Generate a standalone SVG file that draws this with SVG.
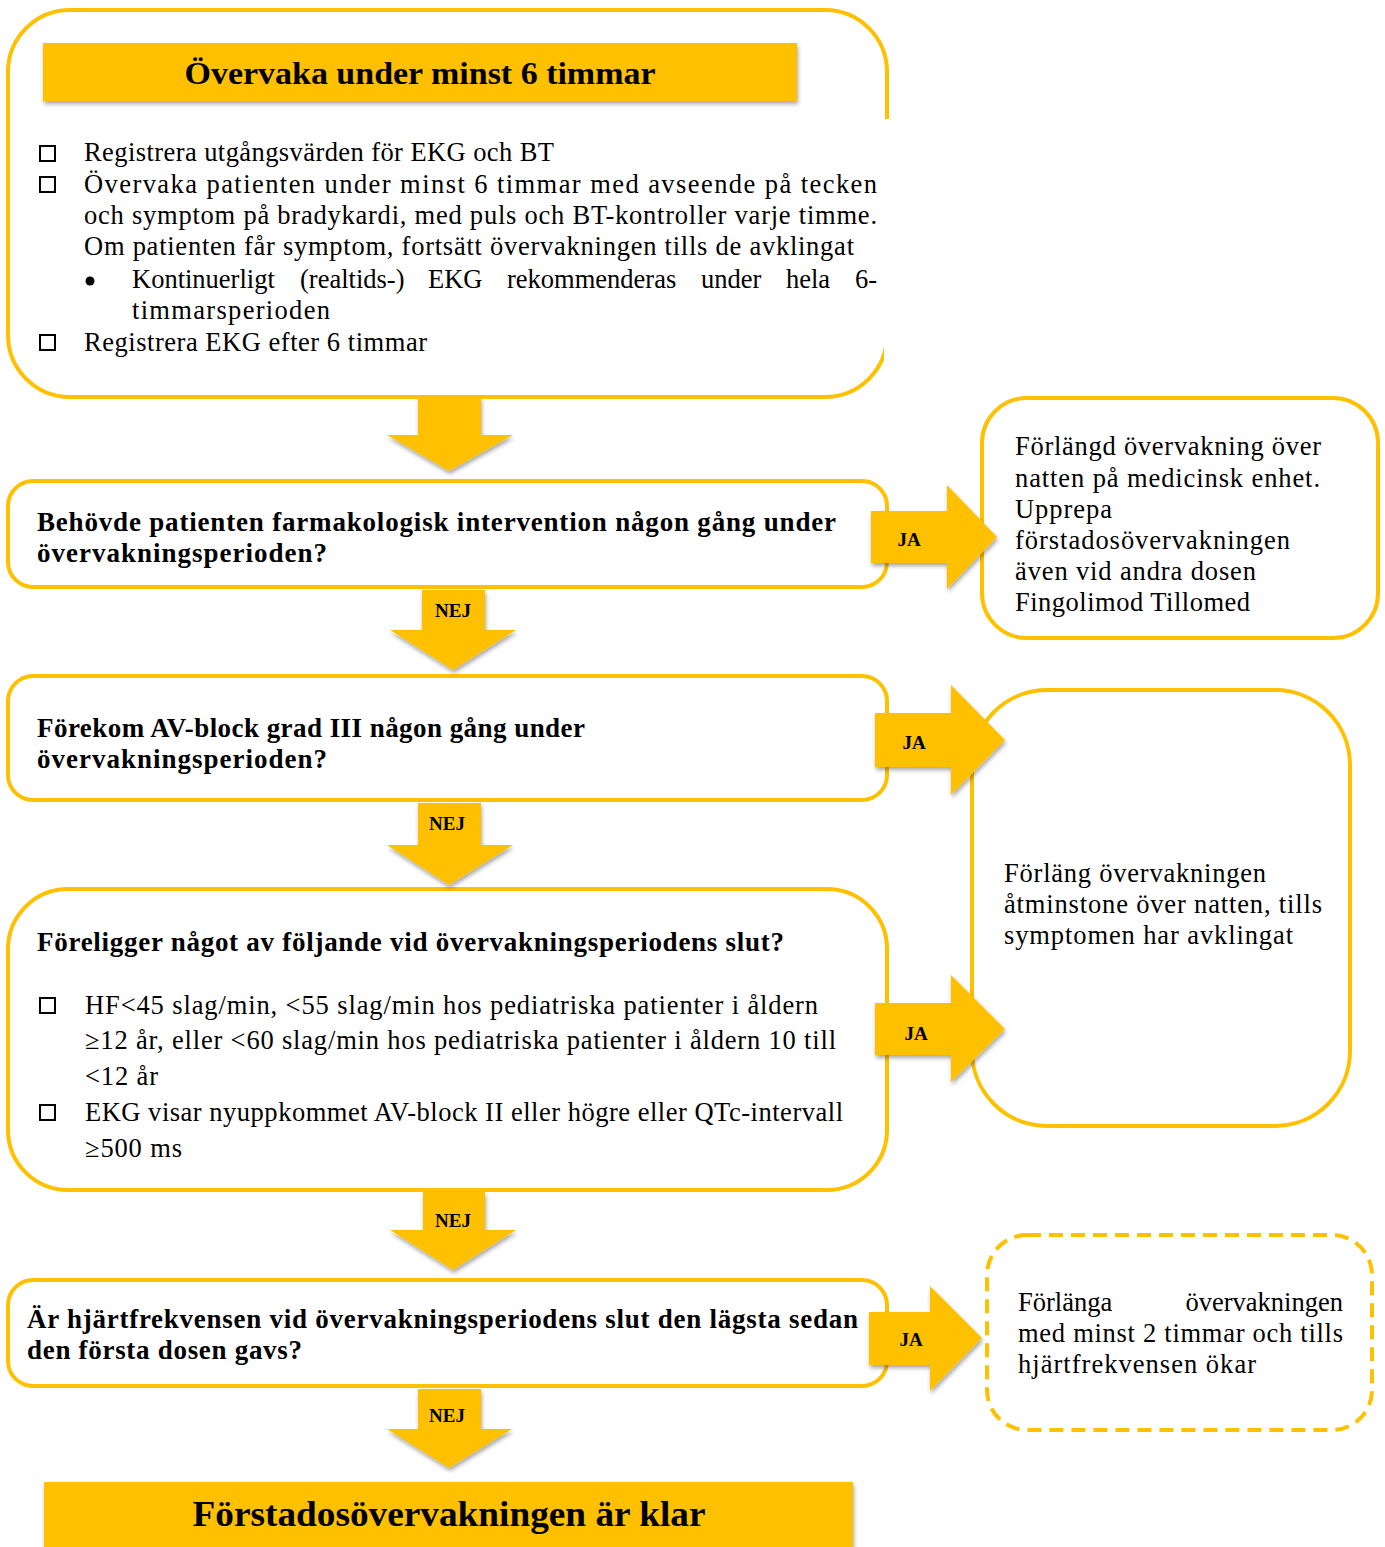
<svg xmlns="http://www.w3.org/2000/svg" width="1385" height="1547" viewBox="0 0 1385 1547">
<defs>
<filter id="sh" x="-20%" y="-20%" width="140%" height="150%">
<feDropShadow dx="1" dy="3" stdDeviation="2" flood-color="#000" flood-opacity="0.35"/>
</filter>
<style>
.box{fill:#fff;stroke:#FFC000;stroke-width:4}
.dash{fill:#fff;stroke:#FFC000;stroke-width:4;stroke-dasharray:14 8}
.bar{fill:#FFC000}
.arr{fill:#FFC000;filter:url(#sh)}
.t{font-family:"Liberation Serif","Times New Roman",serif;font-size:26.5px;fill:#000}
.b{font-family:"Liberation Serif","Times New Roman",serif;font-size:27px;font-weight:bold;fill:#000}
.lab{font-family:"Liberation Serif","Times New Roman",serif;font-size:19px;font-weight:bold;fill:#000;text-anchor:middle}
.h{font-family:"Liberation Serif","Times New Roman",serif;font-weight:bold;fill:#000;text-anchor:middle}
.cb{fill:none;stroke:#000;stroke-width:2}
</style>
</defs>
<rect width="1385" height="1547" fill="#fff"/>

<g id="node-monitor">
<rect class="box" x="8" y="10" width="879" height="387" rx="62"/>
<rect x="884" y="119" width="8" height="242" fill="#fff"/>
<rect class="bar" x="43" y="43" width="754" height="58" filter="url(#sh)"/>
<text class="h" x="420" y="84" font-size="32" textLength="471" lengthAdjust="spacingAndGlyphs">Övervaka under minst 6 timmar</text>
<rect class="cb" x="40" y="146" width="15" height="15"/>
<text class="t" x="84" y="161" textLength="470">Registrera utgångsvärden för EKG och BT</text>
<rect class="cb" x="40" y="177" width="15" height="15"/>
<text class="t" x="84" y="193" textLength="793">Övervaka patienten under minst 6 timmar med avseende på tecken</text>
<text class="t" x="84" y="224" textLength="793">och symptom på bradykardi, med puls och BT-kontroller varje timme.</text>
<text class="t" x="84" y="255" textLength="770">Om patienten får symptom, fortsätt övervakningen tills de avklingat</text>
<circle cx="90" cy="281" r="4.5" fill="#000"/>
<text class="t" y="288"><tspan x="132">Kontinuerligt</tspan><tspan x="300">(realtids-)</tspan><tspan x="428">EKG</tspan><tspan x="507">rekommenderas</tspan><tspan x="701">under</tspan><tspan x="786">hela</tspan></text>
<text class="t" x="877" y="288" text-anchor="end">6-</text>
<text class="t" x="132" y="319" textLength="198">timmarsperioden</text>
<rect class="cb" x="40" y="335" width="15" height="15"/>
<text class="t" x="84" y="351" textLength="343">Registrera EKG efter 6 timmar</text>
</g>

<g id="node-q1">
<rect class="box" x="8" y="481" width="879" height="106" rx="25"/>
<text class="b" x="37" y="531" textLength="799">Behövde patienten farmakologisk intervention någon gång under</text>
<text class="b" x="37" y="562" textLength="290">övervakningsperioden?</text>
</g>

<g id="node-r1">
<rect class="box" x="982" y="398" width="396" height="240" rx="45"/>
<text class="t" x="1015" y="455" textLength="306">Förlängd övervakning över</text>
<text class="t" x="1015" y="487" textLength="305">natten på medicinsk enhet.</text>
<text class="t" x="1015" y="518" textLength="97">Upprepa</text>
<text class="t" x="1015" y="549" textLength="275">förstadosövervakningen</text>
<text class="t" x="1015" y="580" textLength="241">även vid andra dosen</text>
<text class="t" x="1015" y="611" textLength="235">Fingolimod Tillomed</text>
</g>

<g id="node-q2">
<rect class="box" x="8" y="676" width="879" height="124" rx="25"/>
<text class="b" x="37" y="737" textLength="548">Förekom AV-block grad III någon gång under</text>
<text class="b" x="37" y="768" textLength="290">övervakningsperioden?</text>
</g>

<g id="node-r2">
<rect class="box" x="972" y="690" width="378" height="436" rx="75"/>
<text class="t" x="1004" y="882" textLength="262">Förläng övervakningen</text>
<text class="t" x="1004" y="913" textLength="318">åtminstone över natten, tills</text>
<text class="t" x="1004" y="944" textLength="289">symptomen har avklingat</text>
</g>

<g id="node-q3">
<rect class="box" x="8" y="889" width="879" height="301" rx="60"/>
<text class="b" x="37" y="951" textLength="747">Föreligger något av följande vid övervakningsperiodens slut?</text>
<rect class="cb" x="40" y="998" width="15" height="15"/>
<text class="t" x="85" y="1014" textLength="733">HF&lt;45 slag/min, &lt;55 slag/min hos pediatriska patienter i åldern</text>
<text class="t" x="85" y="1049" textLength="751">≥12 år, eller &lt;60 slag/min hos pediatriska patienter i åldern 10 till</text>
<text class="t" x="85" y="1085" textLength="73">&lt;12 år</text>
<rect class="cb" x="40" y="1105" width="15" height="15"/>
<text class="t" x="85" y="1121" textLength="758">EKG visar nyuppkommet AV-block II eller högre eller QTc-intervall</text>
<text class="t" x="85" y="1157" textLength="97">≥500 ms</text>
</g>

<g id="node-q4">
<rect class="box" x="8" y="1280" width="879" height="106" rx="25"/>
<text class="b" x="27" y="1328" textLength="831">Är hjärtfrekvensen vid övervakningsperiodens slut den lägsta sedan</text>
<text class="b" x="27" y="1359" textLength="275">den första dosen gavs?</text>
</g>

<g id="node-r3">
<rect class="dash" x="987" y="1235" width="385" height="195" rx="40"/>
<text class="t" x="1018" y="1311">Förlänga</text>
<text class="t" x="1343" y="1311" text-anchor="end">övervakningen</text>
<text class="t" x="1018" y="1342" textLength="325">med minst 2 timmar och tills</text>
<text class="t" x="1018" y="1373" textLength="238">hjärtfrekvensen ökar</text>
</g>

<g id="node-done">
<rect class="bar" x="44" y="1482" width="809" height="70" filter="url(#sh)"/>
<text class="h" x="449" y="1526" font-size="36" textLength="513" lengthAdjust="spacingAndGlyphs">Förstadosövervakningen är klar</text>
</g>

<g id="connectors">
<path class="arr" d="M418,397 H481 V435 H513 L449,471 L387,435 H418 Z"/>
<path class="arr" d="M422,590 H485 V630 H516 L453,670 L390,630 H422 Z"/>
<text class="lab" x="453" y="617" font-size="17">NEJ</text>
<path class="arr" d="M418,803 H481 V845 H513 L449,885 L387,845 H418 Z"/>
<text class="lab" x="447" y="830" font-size="17">NEJ</text>
<path class="arr" d="M423,1192 H485 V1230 H516 L453,1270 L390,1230 H423 Z"/>
<text class="lab" x="453" y="1227" font-size="17">NEJ</text>
<path class="arr" d="M418,1389 H481 V1429 H512 L449,1468 L387,1429 H418 Z"/>
<text class="lab" x="447" y="1422" font-size="17">NEJ</text>

<path class="arr" d="M871,511 H947 V485 L997,537 L947,589 V563 H871 Z"/>
<text class="lab" x="909" y="546">JA</text>
<path class="arr" d="M875,713 H951 V685 L1005,740 L951,795 V767 H875 Z"/>
<text class="lab" x="914" y="749">JA</text>
<path class="arr" d="M875,1003 H951 V975 L1005,1029 L951,1082 V1055 H875 Z"/>
<text class="lab" x="916" y="1040">JA</text>
<path class="arr" d="M869,1312 H930 V1286 L982,1338 L930,1391 V1365 H869 Z"/>
<text class="lab" x="911" y="1346">JA</text>
</g>
</svg>
